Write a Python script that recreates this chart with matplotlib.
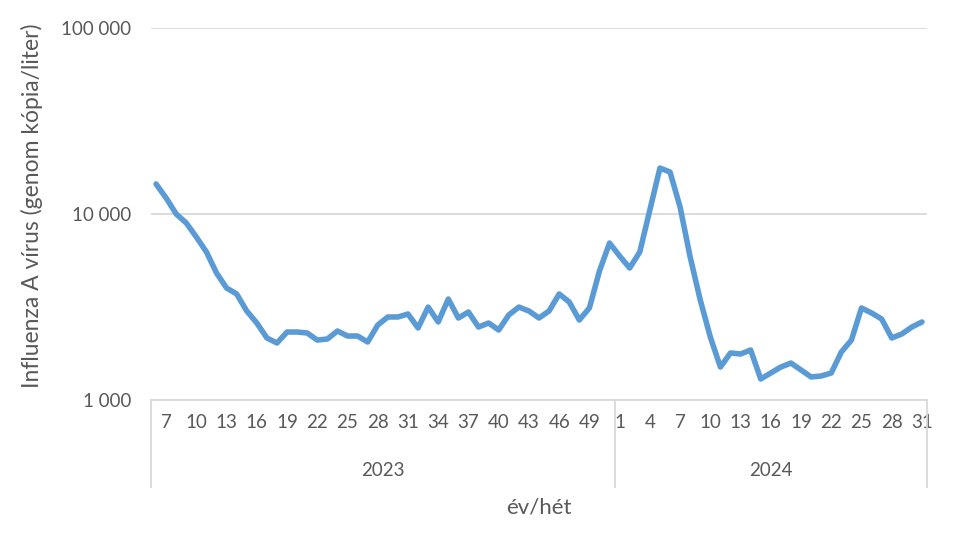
import numpy as np
import matplotlib.pyplot as plt
from matplotlib.ticker import FixedLocator, FixedFormatter, NullLocator

# categories: year / week
weeks_2023 = list(range(6, 52))
weeks_2024 = list(range(1, 32))

# Influenza A virus, genome copies per liter
values_2023 = [14500, 12190, 10000, 8950, 7520, 6250, 4820, 4000, 3715, 3010,
               2594, 2155, 2025, 2320, 2320, 2292, 2100, 2128, 2350, 2208,
               2208, 2050, 2530, 2795, 2795, 2900, 2440, 3160, 2627, 3490,
               2760, 2972, 2468, 2594, 2378, 2864, 3160, 3010, 2760, 3010,
               3715, 3365, 2692, 3124, 4940, 6980]
values_2024 = [5945, 5125, 6250, 10510, 17660, 16820, 10900, 5870, 3450, 2180,
               1504, 1790, 1767, 1857, 1297, 1397, 1504, 1580, 1450, 1330,
               1346, 1397, 1811, 2100, 3124, 2937, 2725, 2155, 2264, 2468,
               2627]

tick_weeks_2023 = [7, 10, 13, 16, 19, 22, 25, 28, 31, 34, 37, 40, 43, 46, 49]
tick_weeks_2024 = [1, 4, 7, 10, 13, 16, 19, 22, 25, 28, 31]

y_ticks = [1000, 10000, 100000]
y_tick_labels = ["1 000", "10 000", "100 000"]

plt.rcParams['font.family'] = ['Lato', 'DejaVu Sans']
text_color = "#595959"
grid_color = "#d9d9d9"

values = values_2023 + values_2024
x = np.arange(len(values))
n23 = len(weeks_2023)

fig = plt.figure(figsize=(9.57, 5.37), dpi=100)
ax = fig.add_axes([151 / 957, 1 - 400 / 537, 776 / 957, 372 / 537])

ax.plot(x, values, color="#5b9bd5", lw=4.0, solid_joinstyle="round", solid_capstyle="round", zorder=3)

ax.set_yscale("log")
ax.set_ylim(1000, 100000)
ax.yaxis.set_major_locator(FixedLocator(y_ticks))
ax.yaxis.set_major_formatter(FixedFormatter(y_tick_labels))
ax.yaxis.set_minor_locator(NullLocator())
ax.grid(axis="y", color=grid_color, lw=1.3)
ax.set_axisbelow(True)
ax.tick_params(axis="y", length=0, pad=14, labelsize=13.5, labelcolor=text_color)

ax.set_xlim(-0.5, len(values) - 0.5)
tick_pos = [weeks_2023.index(w) for w in tick_weeks_2023] + [n23 + weeks_2024.index(w) for w in tick_weeks_2024]
tick_lab = [str(w) for w in tick_weeks_2023 + tick_weeks_2024]
ax.set_xticks(tick_pos)
ax.set_xticklabels(tick_lab)
ax.tick_params(axis="x", length=0, pad=10, labelsize=13.5, labelcolor=text_color)

for s in ["top", "right", "left"]:
    ax.spines[s].set_visible(False)
ax.spines["bottom"].set_color(grid_color)
ax.spines["bottom"].set_linewidth(1.3)

# two-level category axis: group separators and year labels
trans = ax.get_xaxis_transform()
for xs in [-0.5, n23 - 0.5, len(values) - 0.5]:
    ax.plot([xs, xs], [0, -0.235], transform=trans, color=grid_color, lw=1.3, clip_on=False)
ax.text((n23 - 1) / 2, -0.19, "2023", transform=trans, ha="center", va="center",
        fontsize=13.5, color=text_color)
ax.text(n23 + (len(weeks_2024) - 1) / 2, -0.19, "2024", transform=trans, ha="center", va="center",
        fontsize=13.5, color=text_color)

ax.text(0.5, -0.29, "év/hét", transform=ax.transAxes, ha="center", va="center",
        fontsize=16, color=text_color)
fig.text(32 / 957, 1 - 206 / 537, "Influenza A vírus (genom kópia/liter)", rotation=90,
         ha="center", va="center", fontsize=16.5, color=text_color)

fig.savefig("out.png", dpi=100)
